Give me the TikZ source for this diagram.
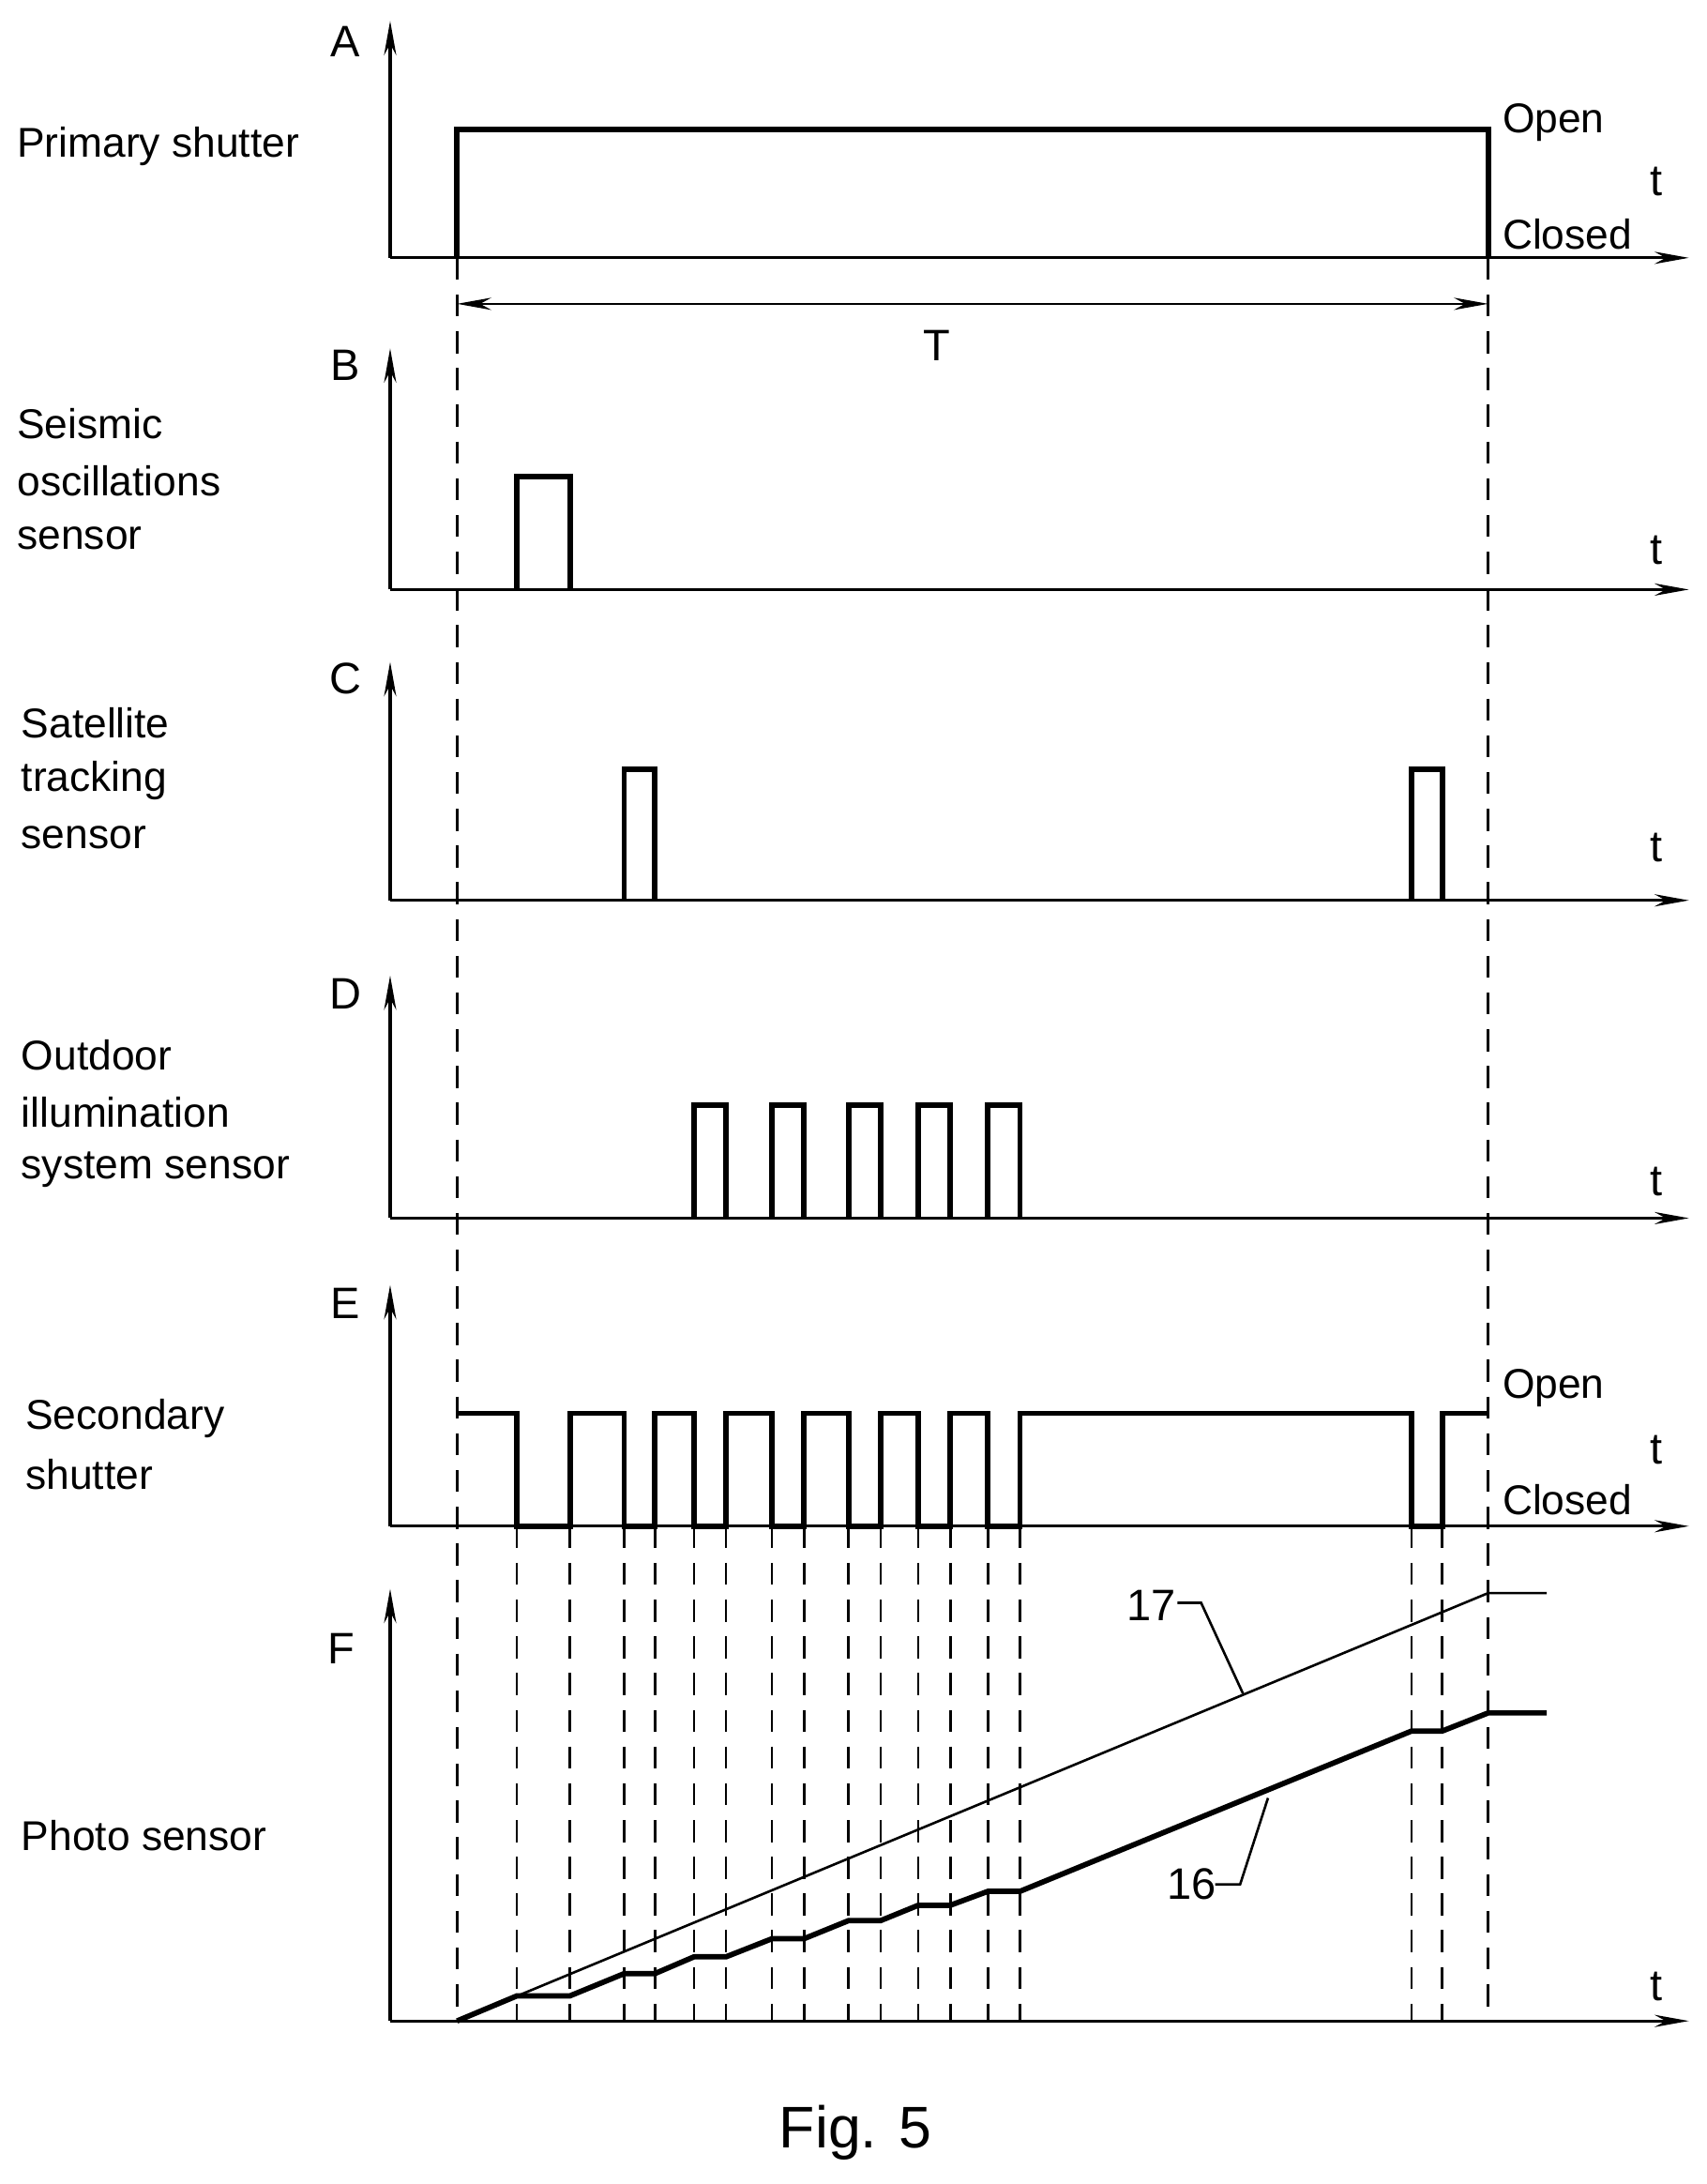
\documentclass[tikz,border=0pt]{standalone}
\usepackage{fontspec}
\setmainfont{Liberation Sans}
\usetikzlibrary{arrows.meta}
\begin{document}
\begin{tikzpicture}[x=0.02cm,y=-0.02cm,
  ax/.style={line width=1.2pt,-{Stealth[length=14pt,width=5pt]}},
  sig/.style={line width=2.2pt},
  dsh/.style={line width=1pt,dash pattern=on 9pt off 6pt},
  lab/.style={anchor=west,font=\fontsize{17}{20}\selectfont,inner sep=0},
  ttl/.style={anchor=center,font=\fontsize{18}{20}\selectfont,inner sep=0}]
\useasboundingbox (0,0) rectangle (1225,1567);
% axes
\foreach \ya/\yt in {185/15,423/250,646/475,874/700,1095/922,1450/1140}{
  \draw[ax] (280,\ya) -- (280,\yt);
  \draw[ax] (280,\ya) -- (1212,\ya);
}
% dashed
\draw[dsh] (328,185) -- (328,1450);
\draw[dsh] (1068,185) -- (1068,1450);
\foreach \x in {371,409,448,470,498,521,554,577,609,632,659,682,709,732,1013,1035}
  \draw[dsh] (\x,1095) -- (\x,1450);
% A
\draw[sig] (328,185) -- (328,93) -- (1068,93) -- (1068,185);
\draw[line width=1pt,{Stealth[length=14pt,width=5pt]}-{Stealth[length=14pt,width=5pt]}] (328,218) -- (1068,218);
\node[ttl] (T) at (672,248) {T};
\node[ttl] (A) at (248,30) {A};
\node[lab] (pa) at (12,105) {Primary shutter};
\node[lab] (oa) at (1078,88) {Open};
\node[lab] (ca) at (1078,168) {Closed};
\node[ttl] (ta) at (1189,130) {t};
% B
\draw[sig] (371,423) -- (371,342) -- (409,342) -- (409,423);
\node[ttl] (B) at (248,262) {B};
\node[lab] at (12,304) {Seismic};
\node[lab] at (12,345) {oscillations};
\node[lab] at (12,386) {sensor};
\node[ttl] at (1189,395) {t};
% C
\draw[sig] (448,646) -- (448,552) -- (470,552) -- (470,646);
\draw[sig] (1013,646) -- (1013,552) -- (1035,552) -- (1035,646);
\node[ttl] (C) at (248,487) {C};
\node[lab] at (15,519) {Satellite};
\node[lab] at (15,560) {tracking};
\node[lab] at (15,601) {sensor};
\node[ttl] at (1189,608) {t};
% D
\foreach \a/\b in {498/521,554/577,609/632,659/682,709/732}
  \draw[sig] (\a,874) -- (\a,793) -- (\b,793) -- (\b,874);
\node[ttl] (D) at (248,713) {D};
\node[lab] at (15,757) {Outdoor};
\node[lab] at (15,798) {illumination};
\node[lab] at (15,839) {system sensor};
\node[ttl] at (1189,848) {t};
% E
\draw[sig] (328,1014) -- (371,1014) -- (371,1095) -- (409,1095) -- (409,1014)
  -- (448,1014) -- (448,1095) -- (470,1095) -- (470,1014)
  -- (498,1014) -- (498,1095) -- (521,1095) -- (521,1014)
  -- (554,1014) -- (554,1095) -- (577,1095) -- (577,1014)
  -- (609,1014) -- (609,1095) -- (632,1095) -- (632,1014)
  -- (659,1014) -- (659,1095) -- (682,1095) -- (682,1014)
  -- (709,1014) -- (709,1095) -- (732,1095) -- (732,1014)
  -- (1013,1014) -- (1013,1095) -- (1035,1095) -- (1035,1014) -- (1068,1014);
\node[ttl] (E) at (248,935) {E};
\node[lab] at (18,1018) {Secondary};
\node[lab] at (18,1058) {shutter};
\node[lab] at (1078,996) {Open};
\node[lab] at (1078,1076) {Closed};
\node[ttl] at (1189,1040) {t};
% F
\draw[line width=1pt] (328,1450) -- (1068,1143) -- (1110,1143);
\draw[sig] (328,1450) -- (371,1432) -- (409,1432) -- (448,1416) -- (470,1416)
  -- (498,1404) -- (521,1404) -- (554,1391) -- (577,1391) -- (609,1378) -- (632,1378)
  -- (659,1367) -- (682,1367) -- (709,1357) -- (732,1357) -- (1013,1242) -- (1035,1242)
  -- (1068,1229) -- (1110,1229);
\node[ttl] (F) at (245,1183) {F};
\node[lab] at (15,1317) {Photo sensor};
\node[ttl] at (1189,1425) {t};
\node[ttl] (n17) at (826,1152) {17};
\draw[line width=1pt] (845,1150) -- (862,1150) -- (892,1215);
\node[ttl] (n16) at (855,1352) {16};
\draw[line width=1pt] (872,1352) -- (890,1352) -- (910,1290);
\node[anchor=center,font=\fontsize{24}{26}\selectfont,inner sep=0] (fig) at (614,1530) {Fig. 5};
\end{tikzpicture}
\end{document}
